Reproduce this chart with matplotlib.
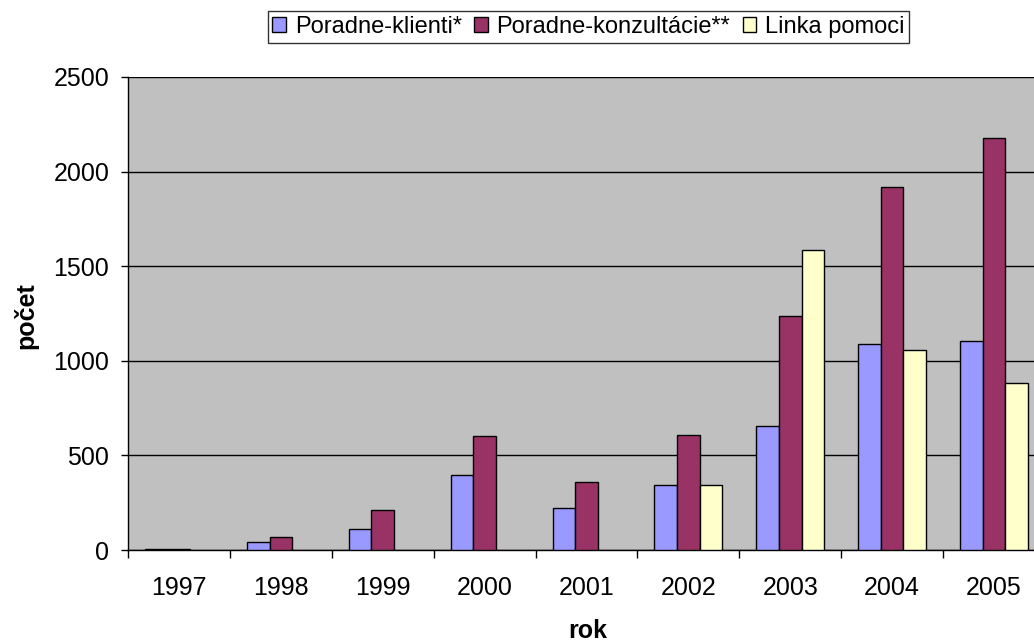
import numpy as np
import matplotlib
matplotlib.use("Agg")
import matplotlib.pyplot as plt
from matplotlib.ticker import FixedLocator

# --- Data ---
years = ["1997", "1998", "1999", "2000", "2001", "2002", "2003", "2004", "2005"]
klienti = [3, 41, 111, 396, 220, 345, 655, 1090, 1105]
konzultacie = [5, 70, 210, 600, 359, 607, 1236, 1919, 2177]
linka = [np.nan, np.nan, np.nan, np.nan, np.nan, 345, 1584, 1055, 884]  # no helpline before 2002

series_names = ["Poradne-klienti*", "Poradne-konzultácie**", "Linka pomoci"]
colors = ["#9999FF", "#993366", "#FFFFCC"]

plt.rcParams.update({
    "font.family": ["Liberation Sans", "DejaVu Sans"],
    "font.size": 18,
})

W, H = 1034, 644
fig = plt.figure(figsize=(W / 100, H / 100), dpi=100)
# plot area runs past the right edge of the picture, like the original
left, right, top, bottom = 128, 1045, 77, 550
ax = fig.add_axes([left / W, (H - bottom) / H, (right - left) / W, (bottom - top) / H])
ax.set_facecolor("#C0C0C0")

x = np.arange(len(years))
width = 0.222
for i, (vals, name, col) in enumerate(zip([klienti, konzultacie, linka], series_names, colors)):
    ax.bar(x + (i - 1) * width, vals, width=width, color=col, edgecolor="black",
           linewidth=1.0, label=name, zorder=3)

ax.set_xlim(-0.5, len(years) - 0.5)
ax.set_ylim(0, 2500)
ax.set_yticks(np.arange(0, 2501, 500))
ax.yaxis.grid(True, color="black", linewidth=1.0, zorder=1)
ax.set_axisbelow(True)

# ticks between categories, labels centred in categories
ax.xaxis.set_major_locator(FixedLocator(np.arange(-0.5, len(years), 1.0)))
ax.xaxis.set_minor_locator(FixedLocator(x))
ax.set_xticklabels([""] * len(ax.get_xticks()))
ax.set_xticklabels(years, minor=True)
ax.tick_params(axis="x", which="major", direction="out", length=6, width=1, color="black")
ax.tick_params(axis="x", which="minor", length=0, pad=18.5, labelsize=18)
ax.tick_params(axis="y", direction="out", length=5, width=1, pad=8.5, labelsize=18)

for s in ["top", "right"]:
    ax.spines[s].set_visible(False)
for s in ["left", "bottom"]:
    ax.spines[s].set_color("black")
    ax.spines[s].set_linewidth(1.0)

fig.text(588 / W, 1 - 631 / H, "rok", fontsize=18, fontweight="bold", ha="center", va="center")
fig.text(26 / W, 1 - 316 / H, "počet", fontsize=18, fontweight="bold", ha="center", va="center",
         rotation=90)

leg = fig.legend(loc="center", bbox_to_anchor=(588.5 / W, 1 - 27 / H), ncol=3,
                 fontsize=17, frameon=True, fancybox=False, edgecolor="black",
                 handlelength=0.57, handleheight=0.57, handletextpad=0.38,
                 columnspacing=0.52, borderpad=0.2, borderaxespad=0)
leg.get_frame().set_linewidth(1.0)

fig.savefig("out.png", dpi=100)
